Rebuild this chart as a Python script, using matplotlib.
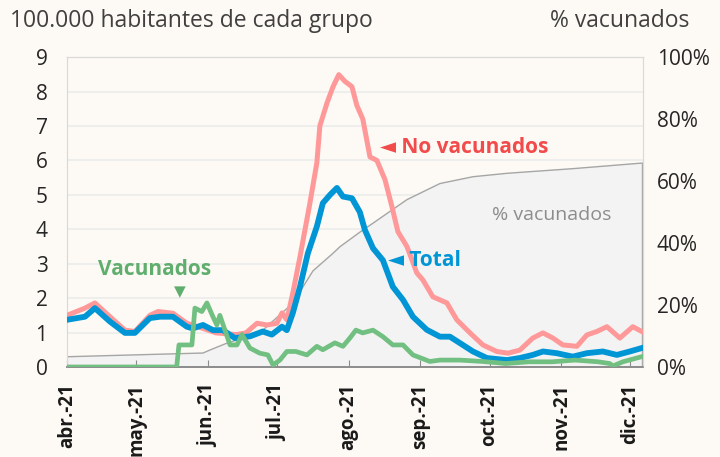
import matplotlib
matplotlib.use("Agg")
import matplotlib.pyplot as plt
import pandas as pd

# dias desde 1-abr-2021 y valores
start = pd.Timestamp("2021-04-01")

total_dias = [0, 7.8, 12.1, 18.6, 25.1, 29.4, 35.9, 40.3, 45.9, 51.9, 54.5, 58.9, 63.2,
              67.5, 72.7, 79.2, 84.8, 88.7, 93.1, 95.2, 97.8, 100.9, 104.3, 108.2, 110.8,
              113.9, 116.9, 119.5, 123.4, 126.8, 129, 132.5, 136.8, 141.1, 145.5, 149.8,
              155.8, 161.5, 165.8, 171.4, 175.8, 181.8, 190.5, 196.1, 201.7, 206.1, 212.1,
              219, 225.1, 232, 238.1, 243.7, 248.9]
total_val = [1.37, 1.46, 1.71, 1.32, 0.99, 0.99, 1.42, 1.46, 1.46, 1.17, 1.12, 1.22, 1.07,
             1.07, 0.84, 0.89, 1.03, 0.94, 1.17, 1.07, 1.57, 2.33, 3.3, 4.08, 4.76,
             5.0, 5.2, 4.95, 4.9, 4.5, 3.98, 3.45, 3.1, 2.33, 1.95, 1.46,
             1.08, 0.88, 0.88, 0.64, 0.45, 0.26, 0.2, 0.26, 0.35, 0.45, 0.4,
             0.3, 0.4, 0.45, 0.35, 0.45, 0.55]

novac_dias = [0, 7.8, 12.1, 18.6, 25.1, 29.4, 35.9, 39.4, 45.9, 51.9, 58.9, 64.5, 73.2,
              77.5, 82.3, 86.6, 90.9, 93.1, 95.2, 97.8, 100.9, 105.2, 108.2, 109.5, 112.6,
              115.2, 117.7, 120.3, 123.4, 125.5, 128.1, 131.2, 134.2, 137.7, 140.7, 143.3,
              147.2, 151.5, 154.1, 158.4, 164.5, 168.8, 174.5, 180.1, 186.1, 190.9, 196.1,
              201.7, 206.1, 210.4, 214.7, 220.8, 225.1, 229.4, 233.8, 239.4, 245.0, 248.9]
novac_val = [1.5, 1.71, 1.86, 1.46, 1.07, 1.03, 1.5, 1.61, 1.56, 1.27, 1.12, 0.99, 0.94,
             0.99, 1.27, 1.22, 1.27, 1.57, 1.37, 2.15, 3.2, 4.76, 5.93, 7.0, 7.67,
             8.14, 8.49, 8.3, 8.14, 7.6, 7.2, 6.1, 6.0, 5.44, 4.66, 3.93,
             3.5, 2.73, 2.53, 2.04, 1.86, 1.37, 0.99, 0.64, 0.45, 0.4, 0.49,
             0.84, 0.99, 0.84, 0.64, 0.6, 0.93, 1.03, 1.17, 0.84, 1.17, 1.03]

vac_dias = [0, 47.5, 48.5, 54.1, 55.4, 58.4, 60.6, 63.2, 64.9, 66.2, 68.4, 70.6, 73.6,
            75.8, 79.2, 83.5, 87.0, 89.2, 92.2, 95.2, 99.1, 103.9, 108.2, 110.8, 116.0,
            119.5, 122.5, 125.1, 128.1, 132.5, 136.8, 141.1, 145.5, 149.8, 157.1, 161.5,
            170, 180, 190, 200, 210, 220, 230, 235, 236.4, 240.7, 248.9]
vac_val = [0, 0, 0.64, 0.64, 1.71, 1.61, 1.86, 1.46, 1.22, 1.5, 1.07, 0.64, 0.64,
           0.94, 0.55, 0.4, 0.35, 0.06, 0.2, 0.45, 0.45, 0.35, 0.6, 0.5, 0.7,
           0.6, 0.84, 1.07, 0.99, 1.07, 0.88, 0.64, 0.64, 0.35, 0.16, 0.2,
           0.2, 0.16, 0.1, 0.15, 0.15, 0.2, 0.15, 0.1, 0.03, 0.15, 0.3]

pct_dias = [0, 58.9, 62, 69.3, 83.5, 97.8, 106.5, 115.2, 118.2, 126.8, 132.5, 147.2,
            161.5, 175.8, 190.5, 219, 248.9]
pct_val = [3.3, 4.5, 5.5, 7.7, 11, 20.6, 31, 36.7, 38.8, 43.5, 46.4, 54,
           59.2, 61.4, 62.5, 64, 65.8]

meses = ["abr.-21", "may.-21", "jun.-21", "jul.-21", "ago.-21", "sep.-21",
         "oct.-21", "nov.-21", "dic.-21"]


def fechas(dias):
    return start + pd.to_timedelta(dias, unit="D")


plt.rcParams['font.family'] = ['Open Sans', 'DejaVu Sans']
bg = "#fdf9f4"
fig = plt.figure(figsize=(7.2, 4.57), dpi=100, facecolor=bg)
ax = fig.add_axes([0.093, 0.197, 0.8, 0.678])
ax2 = ax.twinx()

# % vacunados (eje derecho) como area
xp = fechas(pct_dias)
ax2.set_facecolor("white")
ax2.fill_between(xp, 0, pct_val, color="#f3f3f3", zorder=1)
ax2.plot(xp, pct_val, color="#a6a6a6", lw=1.0, zorder=2)
ax2.plot([xp[-1], xp[-1]], [0, pct_val[-1]], color="#a6a6a6", lw=1.0, zorder=2)
ax2.set_ylim(0, 100)
ax2.set_yticks(range(0, 101, 20))
ax2.set_yticklabels([f"{v}%" for v in range(0, 101, 20)])
ax2.tick_params(axis="y", length=0, labelsize=15, labelcolor="#262626", pad=10)

# lineas principales encima del area
ax2.set_zorder(0)
ax.set_zorder(1)
ax.patch.set_visible(False)

ax.plot(fechas(novac_dias), novac_val, color="#ff9999", lw=3.6, zorder=3,
        solid_joinstyle="round")
ax.plot(fechas(total_dias), total_val, color="#0095d5", lw=4.2, zorder=4,
        solid_joinstyle="round")
ax.plot(fechas(vac_dias), vac_val, color="#72bf82", lw=3.4, zorder=5,
        solid_joinstyle="round")

ax.set_ylim(0, 9)
ax.set_yticks(range(0, 10))
ax.tick_params(axis="y", length=0, labelsize=15, labelcolor="#262626", pad=14)

# rejilla dibujada en el eje de fondo para que quede bajo el area
for v in range(1, 10):
    ax2.axhline(v * 100 / 9, color="#ececec", lw=1.2, zorder=0.5)

ax.set_xlim(start, start + pd.Timedelta(days=249.4))
ticks = pd.date_range("2021-04-01", periods=len(meses), freq="MS")
ax.set_xticks(ticks)
ax.set_xticklabels(meses, rotation=90, fontsize=13.5, fontweight="bold", color="#1a1a1a")
ax.tick_params(axis="x", direction="in", length=5, color="#8c8c8c", pad=12)

for a in (ax, ax2):
    for s in ("left", "right", "top"):
        a.spines[s].set_color("#d9d9d9")
    a.spines["bottom"].set_color("#8c8c8c")
    a.spines["bottom"].set_linewidth(1.2)

# etiquetas
ax.text(start + pd.Timedelta(days=38), 2.82, "Vacunados", color="#5fae6e",
        fontsize=15, fontweight="bold", ha="center", va="center")
ax.text(start + pd.Timedelta(days=49), 2.2, "▼", color="#5fae6e",
        fontsize=11, ha="center", va="center", family=['DejaVu Sans'])
ax.text(start + pd.Timedelta(days=135.5), 6.37, "◄ No vacunados", color="#f24b4b",
        fontsize=15, fontweight="bold", ha="left", va="center",
        family=['Open Sans', 'DejaVu Sans'])
ax.text(start + pd.Timedelta(days=139), 3.08, "◄ Total", color="#0095d5",
        fontsize=15, fontweight="bold", ha="left", va="center",
        family=['Open Sans', 'DejaVu Sans'])
ax.text(start + pd.Timedelta(days=210), 4.42, "% vacunados", color="#8c8c8c",
        fontsize=14, ha="center", va="center")

fig.text(0.014, 0.955, "100.000 habitantes de cada grupo", fontsize=16.5,
         color="#404040", ha="left", va="center")
fig.text(0.958, 0.955, "% vacunados", fontsize=16.5, color="#404040",
         ha="right", va="center")

fig.savefig("out.png", dpi=100, facecolor=bg)
